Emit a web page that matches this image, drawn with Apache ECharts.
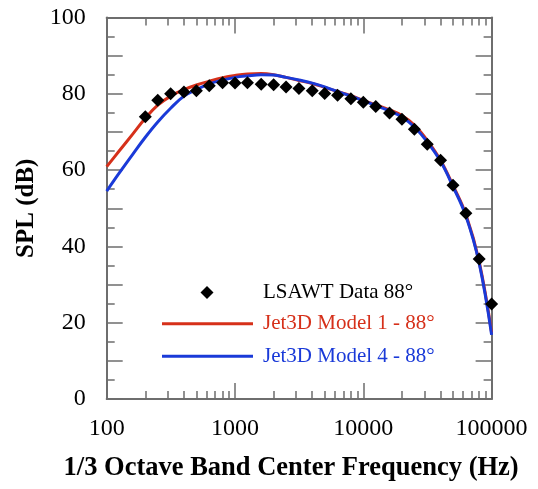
<!DOCTYPE html>
<html><head><meta charset="utf-8">
<script src="https://cdn.jsdelivr.net/npm/echarts@6/dist/echarts.min.js"></script>
<style>html,body{margin:0;padding:0;background:#fff}#c{width:538px;height:489px}</style>
</head><body><div id="c"></div>
<script>
const freqData=[200,250,315,400,500,630,800,1000,1250,1600,2000,2500,3150,4000,5000,6300,8000,10000,12500,16000,20000,25000,31500,40000,50000,63000,80000,100000];
const splData=[74.0,78.3,80.0,80.5,80.8,82.1,82.9,82.8,82.9,82.5,82.4,81.8,81.4,80.8,80.1,79.6,78.7,77.8,76.7,75.0,73.3,70.7,66.8,62.6,56.0,48.7,36.7,24.9];
const freqModel=[100,125,160,200,250,315,400,500,630,800,1000,1250,1600,2000,2500,3150,4000,5000,6300,8000,10000,12500,16000,20000,25000,31500,40000,50000,63000,80000,100000];
const model1=[60.9,65.0,69.5,73.6,77.0,79.4,81.1,82.3,83.3,84.2,84.8,85.2,85.3,85.0,84.3,83.5,82.7,81.7,80.6,79.5,78.3,77.1,75.8,74.3,71.8,67.8,62.6,56.0,48.4,36.0,17.4];
const model4=[54.5,59.2,64.2,68.6,72.6,76.2,79.4,81.1,82.6,83.6,84.3,84.7,85.0,84.9,84.3,83.6,82.8,81.8,80.6,79.4,78.2,76.9,75.5,73.9,71.3,67.4,62.3,55.7,48.0,35.6,16.8];
const xMajorTicks=[100,1000,10000,100000];
const xMinorTicks=[200,300,400,500,600,700,800,900,2000,3000,4000,5000,6000,7000,8000,9000,20000,30000,40000,50000,60000,70000,80000,90000];
const yTickLabels=[0,20,40,60,80,100];
const names=['LSAWT Data 88°','Jet3D Model 1 - 88°','Jet3D Model 4 - 88°'];

const FONT='Liberation Serif';
const AX='#6e6e6e';
const RED='#d6301a', BLUE='#1a3ad8';

function xAxisCfg(pos, ticks, len, labels, line){
  return {
    type:'log', logBase:10, min:100, max:100000, position:pos,
    axisLine:{show:line, lineStyle:{color:AX,width:2}},
    axisTick:{show:true, inside:true, length:len, customValues:ticks, lineStyle:{color:AX,width:1.5}},
    axisLabel:{show:labels, customValues:xMajorTicks, margin:18, color:'#000', fontFamily:FONT, fontSize:24,
      formatter:v=>String(Math.round(v))},
    splitLine:{show:false}, minorTick:{show:false}, minorSplitLine:{show:false},
    name: labels?'1/3 Octave Band Center Frequency (Hz)':'',
    nameLocation:'middle', nameGap:56,
    nameTextStyle:{color:'#000', fontFamily:FONT, fontSize:26.5, fontWeight:'bold', padding:[0,16,0,0]}
  };
}
function yAxisCfg(pos, labels){
  return {
    type:'value', min:0, max:100, interval:10, position:pos,
    axisLine:{show:true, lineStyle:{color:AX,width:2}},
    axisTick:{show:true, inside:true, length:16, lineStyle:{color:AX,width:1.5}},
    minorTick:{show:true, splitNumber:2, length:8, lineStyle:{color:AX,width:1.5}},
    axisLabel:{show:labels, margin:21, color:'#000', fontFamily:FONT, fontSize:24,
      formatter:v=>yTickLabels.indexOf(v)>=0?String(v):''},
    splitLine:{show:false}, minorSplitLine:{show:false},
    name: labels?'SPL (dB)':'', nameLocation:'middle', nameGap:67,
    nameTextStyle:{color:'#000', fontFamily:FONT, fontSize:25, fontWeight:'bold'}
  };
}
function legendCfg(name, top, left, w, h, icon, color, pad){
  return {
    orient:'vertical', left:left, top:top, padding:0,
    itemWidth:w, itemHeight:h, icon:icon,
    selectedMode:false,
    itemStyle:{opacity:1},
    data:[{name:name, textStyle:{color:color}}],
    textStyle:{fontFamily:FONT, fontSize:21, lineHeight:24, color:color, padding:[0,0,0,pad]}
  };
}

const chart=echarts.init(document.getElementById('c'),null,{renderer:'canvas'});
chart.setOption({
  animation:false,
  backgroundColor:'#fff',
  grid:{left:106.7, right:46.4, top:17.5, bottom:90, containLabel:false},
  xAxis:[
    xAxisCfg('bottom', xMajorTicks, 16, true, true),
    xAxisCfg('bottom', xMinorTicks, 8, false, false),
    xAxisCfg('top', xMajorTicks, 16, false, true),
    xAxisCfg('top', xMinorTicks, 8, false, false)
  ],
  yAxis:[ yAxisCfg('left', true), yAxisCfg('right', false) ],
  legend:[
    legendCfg(names[0], 280.5, 200.5, 13, 13, 'diamond', '#000', 44.5),
    legendCfg(names[1], 311.7, 162, 91, 3, 'rect', RED, 5),
    legendCfg(names[2], 344.3, 162, 91, 3, 'rect', BLUE, 5)
  ],
  series:[
    {name:names[1], type:'line', xAxisIndex:0, yAxisIndex:0, showSymbol:false, symbol:'none', smooth:0.4,
      data:freqModel.map((f,i)=>[f,model1[i]]), lineStyle:{color:RED,width:3}, itemStyle:{color:RED}, z:2},
    {name:names[2], type:'line', xAxisIndex:0, yAxisIndex:0, showSymbol:false, symbol:'none', smooth:0.4,
      data:freqModel.map((f,i)=>[f,model4[i]]), lineStyle:{color:BLUE,width:3}, itemStyle:{color:BLUE}, z:3},
    {name:names[0], type:'scatter', xAxisIndex:0, yAxisIndex:0, symbol:'diamond', symbolSize:13,
      data:freqData.map((f,i)=>[f,splData[i]]), itemStyle:{color:'#000', opacity:1}, z:4}
  ]
});
</script></body></html>
